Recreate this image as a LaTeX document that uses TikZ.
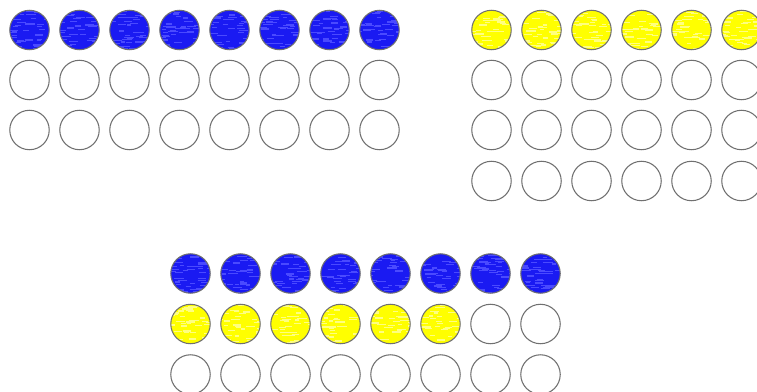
\documentclass[tikz,border=0pt]{standalone}
\definecolor{ringgray}{HTML}{707070}
\definecolor{dotblue}{HTML}{1A1AF2}
\definecolor{streakblue}{HTML}{4A4AFF}
\definecolor{dotyellow}{HTML}{FFFF00}
\definecolor{streakyellow}{HTML}{FFFF80}
\tikzset{
  dot/.style={circle, draw=ringgray, line width=0.8pt, minimum size=29.6pt, inner sep=0pt, fill=white},
  streaks/.style={path picture={
      \foreach \k in {1,...,40}{
        \pgfmathsetmacro\dx{rnd*42-23}
        \pgfmathsetmacro\dy{rnd*40-20}
        \pgfmathsetmacro\ln{4+rnd*6}
        \draw[line width=0.9pt, #1] ([shift={(\dx,\dy)}]path picture bounding box.center) -- ++(\ln,0);
      }}},
  bluedot/.style={dot, fill=dotblue, streaks=streakblue},
  yellowdot/.style={dot, fill=dotyellow, streaks=streakyellow},
}
\begin{document}
\begin{tikzpicture}[x=0.75pt, y=-0.75pt]
\pgfmathsetseed{7}
\useasboundingbox (0,0) rectangle (757,392);
% group A: 8 x 3, top-left
\foreach \c in {0,...,7}{
  \node[bluedot] (a-1-\c) at (29.5+50*\c, 30) {};
  \node[dot] (a-2-\c) at (29.5+50*\c, 80) {};
  \node[dot] (a-3-\c) at (29.5+50*\c, 130) {};
}
% group B: 6 x 4, top-right
\foreach \c in {0,...,5}{
  \node[yellowdot] (b-1-\c) at (491.5+50*\c, 30) {};
  \node[dot] (b-2-\c) at (491.5+50*\c, 80) {};
  \node[dot] (b-3-\c) at (491.5+50*\c, 130) {};
  \node[dot] (b-4-\c) at (491.5+50*\c, 181) {};
}
% group C: 8 x 3, bottom
\foreach \c in {0,...,7}{
  \node[bluedot] (c-1-\c) at (190.5+50*\c, 273.5) {};
  \node[dot] (c-3-\c) at (190.5+50*\c, 374.5) {};
}
\foreach \c in {0,...,5}{
  \node[yellowdot] (c-2-\c) at (190.5+50*\c, 324) {};
}
\foreach \c in {6,7}{
  \node[dot] (c-2-\c) at (190.5+50*\c, 324) {};
}
\end{tikzpicture}
\end{document}
